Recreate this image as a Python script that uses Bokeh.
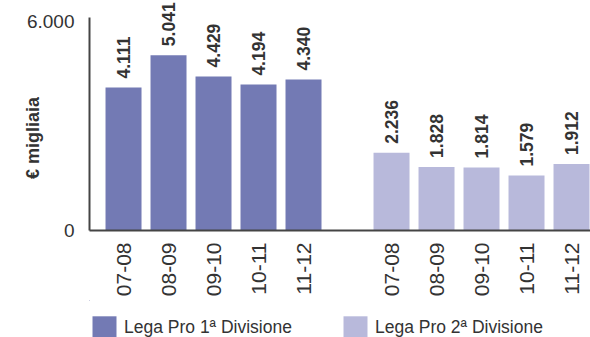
from math import pi

from bokeh.core.properties import value
from bokeh.embed import file_html
from bokeh.layouts import column
from bokeh.models import (ColumnDataSource, FixedTicker, Legend, LegendItem,
                          Range1d)
from bokeh.plotting import figure
from bokeh.resources import INLINE

# Seasons and revenue (thousands of euro) per league
seasons = ["07-08", "08-09", "09-10", "10-11", "11-12"]
prima_divisione = [4111, 5041, 4429, 4194, 4340]
seconda_divisione = [2236, 1828, 1814, 1579, 1912]
leagues = ["Lega Pro 1ª Divisione", "Lega Pro 2ª Divisione"]
colors = ["#737ab4", "#b8b9db"]
y_ticks = [0, 6000]

FONT = "Liberation Sans"
TEXT = "#333333"
AXIS = "#444444"
GROUP_OFFSET = 5.956  # distance between the first bars of the two groups


def fmt(v):
    return f"{v:,}".replace(",", ".")


p = figure(width=590, height=300, output_backend="svg", toolbar_location=None,
           x_range=Range1d(-0.756, 10.378), y_range=Range1d(0, 6612),
           min_border_left=89, min_border_right=0, min_border_top=0,
           min_border_bottom=70)
p.outline_line_color = None
p.grid.visible = False
p.background_fill_color = "white"
p.border_fill_color = "white"

sources = []
tick_pos = []
tick_labels = {}
for g, (vals, col) in enumerate(zip([prima_divisione, seconda_divisione], colors)):
    xs = [g * GROUP_OFFSET + i for i in range(len(seasons))]
    src = ColumnDataSource(dict(x=xs, top=vals, lab=[fmt(v) for v in vals]))
    sources.append(src)
    p.vbar(x="x", top="top", width=0.8, source=src, fill_color=col, line_color=None)
    p.text(x="x", y="top", text="lab", source=src, angle=pi / 2, y_offset=-9,
           text_align="left", text_baseline="middle", text_font=value(FONT),
           text_font_style="bold", text_font_size="17.5px", text_color=TEXT)
    for x, s in zip(xs, seasons):
        tick_pos.append(x)
        tick_labels[x] = s

# x axis: season labels, vertical
xa = p.xaxis[0]
xa.ticker = FixedTicker(ticks=tick_pos)
xa.major_label_overrides = tick_labels
xa.major_label_orientation = pi / 2
xa.major_tick_in = 0
xa.major_tick_out = 0
xa.minor_tick_line_color = None
xa.major_label_standoff = 12
xa.axis_line_color = AXIS
xa.axis_line_width = 2
xa.major_label_text_font = FONT
xa.major_label_text_font_size = "21px"
xa.major_label_text_color = TEXT

# y axis: only 0 and 6.000, line stops just above the top tick
ya = p.yaxis[0]
ya.ticker = FixedTicker(ticks=y_ticks)
ya.bounds = (0, 6124)
ya.major_label_overrides = {t: fmt(t) for t in y_ticks}
ya.major_tick_in = 0
ya.major_tick_out = 0
ya.minor_tick_line_color = None
ya.major_label_standoff = 15
ya.axis_line_color = AXIS
ya.axis_line_width = 2
ya.major_label_text_font = FONT
ya.major_label_text_font_size = "19px"
ya.major_label_text_color = TEXT
ya.axis_label = "€ migliaia" + "\u00a0" * 9
ya.axis_label_standoff = -19
ya.axis_label_text_font = FONT
ya.axis_label_text_font_style = "bold"
ya.axis_label_text_font_size = "18px"
ya.axis_label_text_color = TEXT

# Legend strip underneath the chart; its bars lie outside the visible ranges
leg = figure(width=590, height=37, output_backend="svg", toolbar_location=None,
             min_border=0, x_range=Range1d(1000, 1001),
             y_range=Range1d(-100000, -99000))
leg.axis.visible = False
leg.grid.visible = False
leg.outline_line_color = None
leg.border_fill_color = "white"
leg.background_fill_color = "white"
items = []
for name, col, src in zip(leagues, colors, sources):
    r = leg.vbar(x="x", top="top", width=0.8, source=src, fill_color=col, line_color=None)
    items.append(LegendItem(label=name, renderers=[r]))
legend = Legend(items=items, orientation="horizontal", location=(0, -4),
                glyph_width=30, glyph_height=28, label_standoff=5, spacing=48,
                padding=0, margin=0, border_line_color=None,
                background_fill_alpha=0, label_text_font=FONT,
                label_text_font_size="17.5px", label_text_color=TEXT)
leg.add_layout(legend, "center")

open("out.html", "w").write(file_html(column(p, leg, spacing=0), INLINE))
